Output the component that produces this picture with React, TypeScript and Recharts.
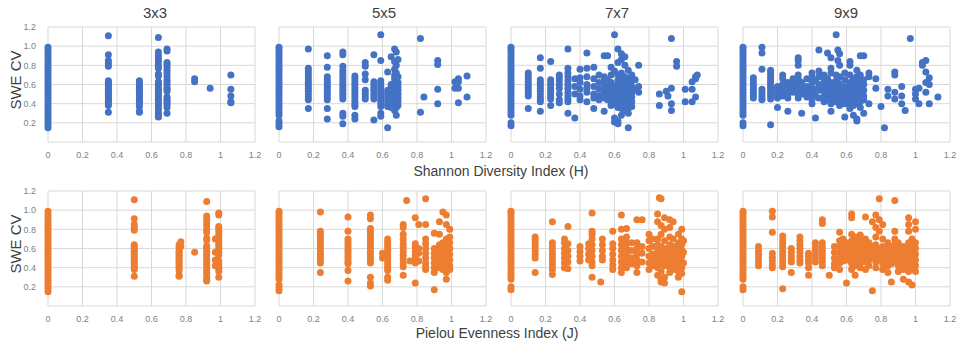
import { ScatterChart, Scatter, XAxis, YAxis, CartesianGrid } from 'recharts';

type Column = [number, number[]];

// each entry: index value, then the SWE CV values stacked on it
const shannon3x3: Column[] = [
  [0, [0.15, 0.18, 0.21, 0.24, 0.27, 0.3, 0.33, 0.36, 0.39, 0.42, 0.45, 0.48, 0.51, 0.54, 0.57, 0.6, 0.63, 0.66, 0.69, 0.72, 0.75, 0.78, 0.81, 0.84, 0.87, 0.9, 0.93, 0.96, 0.99]],
  [0.35, [1.11, 0.91, 0.85, 0.82, 0.79, 0.64, 0.62, 0.6, 0.58, 0.56, 0.54, 0.52, 0.5, 0.48, 0.46, 0.44, 0.42, 0.4, 0.38, 0.31]],
  [0.53, [0.64, 0.61, 0.58, 0.56, 0.54, 0.52, 0.5, 0.48, 0.46, 0.44, 0.42, 0.4, 0.37, 0.32, 0.31]],
  [0.64, [1.09, 0.94, 0.9, 0.87, 0.84, 0.8, 0.77, 0.71, 0.69, 0.63, 0.61, 0.58, 0.55, 0.53, 0.5, 0.48, 0.45, 0.43, 0.4, 0.37, 0.34, 0.3, 0.27, 0.26]],
  [0.69, [0.97, 0.95, 0.83, 0.81, 0.78, 0.75, 0.72, 0.69, 0.65, 0.63, 0.6, 0.57, 0.55, 0.53, 0.47, 0.45, 0.43, 0.41, 0.39, 0.36, 0.3]],
  [0.85, [0.66, 0.63]],
  [0.94, [0.56]],
  [1.06, [0.7, 0.55, 0.48, 0.42, 0.41]],
];

const shannon5x5: Column[] = [
  [0, [0.16, 0.19, 0.22, 0.28, 0.31, 0.34, 0.37, 0.4, 0.43, 0.46, 0.49, 0.52, 0.55, 0.58, 0.61, 0.64, 0.67, 0.7, 0.73, 0.76, 0.79, 0.82, 0.85, 0.88, 0.91, 0.94, 0.97, 0.99]],
  [0.17, [0.97, 0.77, 0.74, 0.71, 0.68, 0.65, 0.62, 0.59, 0.56, 0.53, 0.5, 0.47, 0.44, 0.35]],
  [0.28, [0.9, 0.78, 0.68, 0.65, 0.62, 0.59, 0.56, 0.53, 0.5, 0.47, 0.44, 0.35, 0.24]],
  [0.37, [0.94, 0.91, 0.79, 0.75, 0.72, 0.69, 0.66, 0.63, 0.6, 0.57, 0.54, 0.51, 0.48, 0.45, 0.3, 0.27, 0.19]],
  [0.44, [0.69, 0.66, 0.63, 0.6, 0.57, 0.54, 0.51, 0.48, 0.45, 0.42, 0.39, 0.37, 0.28, 0.24]],
  [0.5, [0.83, 0.79, 0.71, 0.65, 0.54, 0.51, 0.48, 0.45]],
  [0.55, [0.91, 0.63, 0.6, 0.57, 0.54, 0.51, 0.48, 0.45, 0.23]],
  [0.59, [1.12, 0.85, 0.64, 0.61, 0.58, 0.55, 0.52, 0.49, 0.46, 0.43, 0.4, 0.37, 0.3, 0.27]],
  [0.63, [0.73, 0.54, 0.51, 0.48, 0.45, 0.42, 0.39, 0.37, 0.15]],
  [0.65, [0.89, 0.6, 0.56, 0.52, 0.48, 0.44, 0.4, 0.36]],
  [0.67, [0.97, 0.84, 0.76, 0.7, 0.66, 0.62, 0.58, 0.54, 0.5, 0.46, 0.42, 0.38, 0.33]],
  [0.68, [0.94, 0.8, 0.72, 0.64, 0.6, 0.56, 0.52, 0.48, 0.44, 0.4, 0.36, 0.28]],
  [0.69, [0.86, 0.68, 0.62, 0.58, 0.54, 0.5, 0.46, 0.42, 0.38]],
  [0.82, [1.08, 0.31]],
  [0.84, [0.47]],
  [0.92, [0.85, 0.81, 0.55, 0.4]],
  [1.02, [0.63, 0.56]],
  [1.04, [0.66, 0.63, 0.56, 0.41]],
  [1.09, [0.69, 0.47]],
];

const shannon7x7: Column[] = [
  [0, [0.17, 0.2, 0.28, 0.31, 0.34, 0.37, 0.4, 0.43, 0.46, 0.49, 0.52, 0.55, 0.58, 0.61, 0.64, 0.67, 0.7, 0.73, 0.76, 0.79, 0.82, 0.85, 0.88, 0.91, 0.94, 0.97, 0.99]],
  [0.1, [0.72, 0.69, 0.66, 0.63, 0.6, 0.57, 0.54, 0.51, 0.48, 0.35]],
  [0.17, [0.88, 0.77, 0.65, 0.62, 0.59, 0.56, 0.53, 0.5, 0.47, 0.44, 0.42, 0.32]],
  [0.23, [0.84, 0.65, 0.62, 0.59, 0.56, 0.53, 0.5, 0.47, 0.45, 0.38]],
  [0.28, [0.7, 0.67, 0.64, 0.6, 0.56, 0.5, 0.44, 0.41]],
  [0.33, [0.97, 0.77, 0.72, 0.68, 0.64, 0.6, 0.56, 0.52, 0.48, 0.45, 0.42, 0.3]],
  [0.37, [0.66, 0.58, 0.5, 0.25]],
  [0.4, [0.76, 0.67, 0.62, 0.55, 0.48, 0.44]],
  [0.44, [0.93, 0.77, 0.68, 0.6, 0.56, 0.52, 0.42]],
  [0.48, [0.78, 0.66, 0.58, 0.5, 0.46, 0.35]],
  [0.51, [0.7, 0.62, 0.55, 0.48, 0.44]],
  [0.54, [0.9, 0.68, 0.64, 0.58, 0.52, 0.46, 0.32]],
  [0.56, [0.9, 0.65, 0.6, 0.55, 0.5, 0.44]],
  [0.58, [0.78, 0.7, 0.62, 0.56, 0.49, 0.42, 0.38]],
  [0.6, [1.12, 0.74, 0.58, 0.52, 0.46, 0.4, 0.25, 0.21]],
  [0.62, [0.97, 0.83, 0.7, 0.64, 0.58, 0.52, 0.47, 0.42, 0.36, 0.22, 0.19]],
  [0.64, [0.92, 0.86, 0.72, 0.66, 0.6, 0.55, 0.5, 0.45, 0.4, 0.35, 0.28]],
  [0.66, [0.89, 0.8, 0.68, 0.62, 0.57, 0.52, 0.48, 0.43, 0.38, 0.33]],
  [0.68, [0.75, 0.66, 0.6, 0.55, 0.5, 0.45, 0.4, 0.35, 0.3, 0.15]],
  [0.7, [0.7, 0.64, 0.58, 0.52, 0.47, 0.42, 0.37]],
  [0.72, [0.65, 0.55]],
  [0.74, [0.8, 0.58, 0.52]],
  [0.86, [0.5, 0.38]],
  [0.9, [0.53]],
  [0.91, [0.48]],
  [0.93, [1.08, 0.56, 0.4, 0.33]],
  [0.96, [0.84, 0.79]],
  [1.01, [0.55, 0.42]],
  [1.05, [0.63, 0.55, 0.42]],
  [1.07, [0.68, 0.66, 0.47]],
  [1.08, [0.7]],
];

const shannon9x9: Column[] = [
  [0, [0.17, 0.2, 0.28, 0.31, 0.34, 0.37, 0.4, 0.43, 0.46, 0.49, 0.52, 0.55, 0.58, 0.61, 0.64, 0.67, 0.7, 0.73, 0.76, 0.79, 0.82, 0.85, 0.88, 0.91, 0.94, 0.97, 0.99]],
  [0.06, [0.67, 0.64, 0.61, 0.58, 0.55, 0.52, 0.49, 0.46]],
  [0.11, [0.99, 0.93, 0.76, 0.55, 0.52, 0.49, 0.46, 0.44]],
  [0.16, [0.75, 0.72, 0.69, 0.66, 0.63, 0.6, 0.57, 0.54, 0.51, 0.48, 0.45, 0.18]],
  [0.2, [0.58, 0.55, 0.52, 0.49, 0.46, 0.36]],
  [0.23, [0.7, 0.66, 0.6, 0.56, 0.52, 0.48]],
  [0.26, [0.62, 0.58, 0.54, 0.5, 0.46, 0.32]],
  [0.29, [0.66, 0.6, 0.56, 0.52]],
  [0.32, [0.88, 0.85, 0.8, 0.7, 0.66, 0.62, 0.58, 0.54, 0.5, 0.46]],
  [0.34, [0.62, 0.56, 0.5, 0.3]],
  [0.37, [0.66, 0.58, 0.52, 0.47]],
  [0.4, [0.72, 0.68, 0.62, 0.56, 0.5, 0.44, 0.4]],
  [0.42, [0.64, 0.55, 0.48, 0.25]],
  [0.44, [0.96, 0.74, 0.68, 0.6, 0.54, 0.46]],
  [0.47, [0.7, 0.64, 0.58, 0.52, 0.47, 0.42]],
  [0.49, [0.93, 0.66, 0.6, 0.54, 0.48, 0.44]],
  [0.51, [0.88, 0.77, 0.72, 0.62, 0.56, 0.5, 0.45, 0.4, 0.32]],
  [0.54, [1.12, 0.7, 0.64, 0.58, 0.52, 0.47, 0.42]],
  [0.55, [0.96, 0.85, 0.62, 0.56, 0.5]],
  [0.56, [0.92, 0.8, 0.68, 0.6, 0.54, 0.48, 0.43, 0.38]],
  [0.59, [0.72, 0.65, 0.58, 0.52, 0.46, 0.4, 0.26]],
  [0.62, [0.84, 0.8, 0.7, 0.62, 0.56, 0.5, 0.45, 0.4, 0.35]],
  [0.64, [0.66, 0.6, 0.54, 0.48, 0.43, 0.38, 0.28]],
  [0.66, [0.75, 0.68, 0.62, 0.56, 0.5, 0.45, 0.4, 0.24, 0.22]],
  [0.68, [0.9, 0.7, 0.64, 0.58, 0.52, 0.47, 0.42, 0.36]],
  [0.7, [0.9, 0.65, 0.6, 0.54, 0.48, 0.44, 0.3]],
  [0.73, [0.72, 0.68, 0.4]],
  [0.77, [0.66, 0.56]],
  [0.8, [0.37]],
  [0.82, [0.15]],
  [0.84, [0.55, 0.48]],
  [0.88, [0.73, 0.7, 0.52, 0.45]],
  [0.92, [0.58, 0.48, 0.4]],
  [0.94, [0.33]],
  [0.97, [1.08]],
  [1.0, [0.55, 0.5, 0.45]],
  [1.02, [0.56, 0.4]],
  [1.04, [0.83, 0.8]],
  [1.06, [0.85, 0.73, 0.62, 0.52]],
  [1.08, [0.67, 0.6, 0.4]],
  [1.13, [0.47]],
];

const pielou3x3: Column[] = [
  [0, [0.15, 0.18, 0.21, 0.24, 0.27, 0.3, 0.33, 0.36, 0.39, 0.42, 0.45, 0.48, 0.51, 0.54, 0.57, 0.6, 0.63, 0.66, 0.69, 0.72, 0.75, 0.78, 0.81, 0.84, 0.87, 0.9, 0.93, 0.96, 0.99]],
  [0.5, [1.11, 0.91, 0.85, 0.82, 0.79, 0.64, 0.62, 0.6, 0.58, 0.56, 0.54, 0.52, 0.5, 0.48, 0.46, 0.44, 0.42, 0.4, 0.38, 0.31]],
  [0.76, [0.64, 0.61, 0.58, 0.56, 0.54, 0.52, 0.5, 0.48, 0.46, 0.44, 0.42, 0.4, 0.37, 0.32, 0.31]],
  [0.77, [0.67, 0.62]],
  [0.85, [0.56]],
  [0.92, [1.09, 0.94, 0.9, 0.87, 0.84, 0.8, 0.77, 0.71, 0.69, 0.63, 0.61, 0.58, 0.55, 0.53, 0.5, 0.48, 0.45, 0.43, 0.4, 0.37, 0.34, 0.3, 0.27, 0.26]],
  [0.97, [0.7, 0.56, 0.48, 0.42]],
  [0.99, [0.97, 0.95, 0.83, 0.81, 0.78, 0.75, 0.72, 0.69, 0.65, 0.63, 0.6, 0.57, 0.55, 0.53, 0.47, 0.45, 0.43, 0.41, 0.39, 0.36, 0.3]],
];

const pielou5x5: Column[] = [
  [0, [0.16, 0.19, 0.22, 0.28, 0.31, 0.34, 0.37, 0.4, 0.43, 0.46, 0.49, 0.52, 0.55, 0.58, 0.61, 0.64, 0.67, 0.7, 0.73, 0.76, 0.79, 0.82, 0.85, 0.88, 0.91, 0.94, 0.97, 0.99]],
  [0.24, [0.98, 0.78, 0.75, 0.72, 0.69, 0.66, 0.63, 0.6, 0.57, 0.54, 0.51, 0.48, 0.45, 0.35]],
  [0.4, [0.93, 0.78, 0.7, 0.67, 0.64, 0.61, 0.58, 0.55, 0.52, 0.49, 0.46, 0.44, 0.37, 0.26]],
  [0.53, [0.95, 0.91, 0.81, 0.78, 0.75, 0.72, 0.69, 0.66, 0.63, 0.6, 0.57, 0.54, 0.51, 0.48, 0.45, 0.3, 0.24, 0.21]],
  [0.6, [0.55, 0.5]],
  [0.63, [0.7, 0.67, 0.64, 0.61, 0.58, 0.55, 0.52, 0.49, 0.46, 0.43, 0.4, 0.37, 0.3, 0.27]],
  [0.72, [0.85, 0.82, 0.75, 0.7, 0.65, 0.61, 0.57, 0.53, 0.49, 0.45, 0.41, 0.32]],
  [0.74, [1.1]],
  [0.76, [0.47]],
  [0.79, [0.92, 0.65, 0.61, 0.57, 0.53, 0.49, 0.45, 0.24]],
  [0.81, [0.85, 0.6, 0.55, 0.47]],
  [0.85, [1.12, 0.85, 0.7, 0.65, 0.6, 0.55, 0.5, 0.45, 0.41, 0.38]],
  [0.9, [0.76, 0.6, 0.55, 0.5, 0.45, 0.4, 0.35, 0.17]],
  [0.93, [0.88, 0.75, 0.64, 0.58, 0.52, 0.46, 0.4]],
  [0.95, [0.98, 0.66, 0.6, 0.55, 0.5, 0.44, 0.38]],
  [0.97, [0.95, 0.85, 0.7, 0.62, 0.56, 0.5, 0.45, 0.4, 0.35, 0.28]],
  [0.99, [0.8, 0.72, 0.66, 0.6, 0.54, 0.48, 0.42, 0.38]],
];

const pielou7x7: Column[] = [
  [0, [0.17, 0.2, 0.28, 0.31, 0.34, 0.37, 0.4, 0.43, 0.46, 0.49, 0.52, 0.55, 0.58, 0.61, 0.64, 0.67, 0.7, 0.73, 0.76, 0.79, 0.82, 0.85, 0.88, 0.91, 0.94, 0.97, 0.99]],
  [0.14, [0.72, 0.69, 0.66, 0.62, 0.58, 0.54, 0.5, 0.35]],
  [0.24, [0.88, 0.66, 0.62, 0.58, 0.54, 0.5, 0.46, 0.42, 0.38, 0.33]],
  [0.31, [0.7, 0.66, 0.6, 0.55, 0.5, 0.45, 0.4]],
  [0.33, [0.83, 0.65, 0.58, 0.52, 0.46, 0.39]],
  [0.4, [0.62, 0.57, 0.52, 0.47]],
  [0.45, [0.65, 0.6, 0.54, 0.48]],
  [0.47, [0.97, 0.78, 0.75, 0.7, 0.64, 0.58, 0.52, 0.46, 0.42, 0.3]],
  [0.52, [0.25]],
  [0.53, [0.7, 0.64, 0.58, 0.52, 0.48]],
  [0.59, [0.78, 0.65, 0.6, 0.54, 0.48, 0.43, 0.38]],
  [0.64, [0.95, 0.8, 0.7, 0.64, 0.58, 0.52, 0.46, 0.4, 0.35]],
  [0.67, [0.81, 0.72, 0.66, 0.6, 0.54, 0.48, 0.44, 0.4]],
  [0.7, [0.66, 0.58, 0.5, 0.44]],
  [0.73, [0.9, 0.66, 0.6, 0.54, 0.48, 0.42, 0.35]],
  [0.76, [0.9, 0.62, 0.55, 0.46]],
  [0.8, [0.75, 0.68, 0.6, 0.52, 0.45, 0.38]],
  [0.82, [0.7, 0.62, 0.54, 0.48, 0.42]],
  [0.85, [0.96, 0.88, 0.7, 0.64, 0.58, 0.52, 0.46, 0.4, 0.32]],
  [0.86, [1.13]],
  [0.87, [1.12, 0.84, 0.75, 0.62, 0.56, 0.5, 0.44, 0.36, 0.28, 0.25]],
  [0.89, [0.92, 0.8, 0.68, 0.6, 0.54, 0.48, 0.42, 0.3, 0.24]],
  [0.92, [0.9, 0.82, 0.72, 0.64, 0.58, 0.52, 0.46, 0.4, 0.35]],
  [0.94, [0.88, 0.7, 0.62, 0.56, 0.5, 0.44, 0.38]],
  [0.97, [0.75, 0.66, 0.6, 0.54, 0.48, 0.42, 0.36, 0.3]],
  [0.99, [0.8, 0.7, 0.64, 0.58, 0.52, 0.46, 0.4, 0.34, 0.15]],
  [1.0, [0.68, 0.56, 0.45]],
];

const pielou9x9: Column[] = [
  [0, [0.17, 0.2, 0.28, 0.31, 0.34, 0.37, 0.4, 0.43, 0.46, 0.49, 0.52, 0.55, 0.58, 0.61, 0.64, 0.67, 0.7, 0.73, 0.76, 0.79, 0.82, 0.85, 0.88, 0.91, 0.94, 0.97, 0.99]],
  [0.09, [0.62, 0.58, 0.54, 0.5, 0.46, 0.42]],
  [0.17, [0.99, 0.93, 0.77, 0.55, 0.51, 0.47, 0.43, 0.4]],
  [0.23, [0.73, 0.69, 0.65, 0.61, 0.57, 0.53, 0.49, 0.45, 0.41, 0.18]],
  [0.28, [0.6, 0.56, 0.52, 0.48, 0.46, 0.35]],
  [0.33, [0.72, 0.68, 0.64, 0.6, 0.56, 0.52, 0.48, 0.45]],
  [0.38, [0.55, 0.52, 0.48, 0.45, 0.4, 0.32]],
  [0.42, [0.66, 0.62, 0.58, 0.54, 0.5, 0.46]],
  [0.46, [0.9, 0.86, 0.66, 0.62, 0.58, 0.54, 0.5, 0.46, 0.42]],
  [0.5, [0.32]],
  [0.53, [0.62, 0.56, 0.5, 0.44, 0.4]],
  [0.56, [0.77, 0.68, 0.62, 0.56, 0.5, 0.45, 0.38]],
  [0.58, [0.7, 0.64, 0.58, 0.52, 0.47]],
  [0.6, [0.66, 0.6, 0.54, 0.48, 0.24]],
  [0.63, [0.96, 0.92, 0.75, 0.68, 0.62, 0.56, 0.5, 0.44, 0.38]],
  [0.65, [0.72, 0.66, 0.6, 0.54, 0.48, 0.42, 0.32]],
  [0.68, [0.74, 0.68, 0.62, 0.56, 0.5, 0.45, 0.4]],
  [0.71, [0.93, 0.7, 0.64, 0.58, 0.52, 0.46, 0.38]],
  [0.73, [0.66, 0.6, 0.54, 0.48, 0.42]],
  [0.75, [0.88, 0.62, 0.56, 0.5, 0.16]],
  [0.77, [0.95, 0.82, 0.72, 0.64, 0.58, 0.52, 0.46, 0.4]],
  [0.79, [1.12, 0.9, 0.78, 0.6, 0.54, 0.48]],
  [0.81, [0.85, 0.7, 0.62, 0.56, 0.5, 0.44, 0.38]],
  [0.84, [0.66, 0.6, 0.54, 0.48, 0.42, 0.35]],
  [0.86, [0.62, 0.56, 0.5, 0.44, 0.25]],
  [0.88, [1.1, 0.78, 0.7, 0.64, 0.58, 0.52, 0.46]],
  [0.9, [0.66, 0.6, 0.54, 0.48, 0.42, 0.36]],
  [0.93, [0.62, 0.56, 0.5, 0.44, 0.38, 0.28]],
  [0.96, [0.92, 0.85, 0.78, 0.66, 0.6, 0.54, 0.48, 0.42, 0.36, 0.25]],
  [0.98, [0.7, 0.64, 0.58, 0.52, 0.46, 0.4, 0.22]],
  [1.0, [0.88, 0.8, 0.66, 0.6, 0.54, 0.48, 0.42, 0.36]],
];

const windowTitles = ['3x3', '5x5', '7x7', '9x9'];
const xTicks = [0, 0.2, 0.4, 0.6, 0.8, 1, 1.2];
const yTicks = [0, 0.2, 0.4, 0.6, 0.8, 1, 1.2];

const BLUE = '#4472C4';
const ORANGE = '#ED7D31';
const FONT = '"Liberation Sans", Arial, sans-serif';

const PLOT_W = 207;
const PLOT_H = 115;
const PAD_L = 40;
const PAD_R = 8;
const PAD_T = 8;
const X_AXIS_H = 24;
const colLefts = [48, 279, 511, 743];
const rowTops = [27, 191];
const titleXs = [155, 384, 617, 846];

const toPoints = (cols: Column[]) =>
  cols.flatMap(([x, ys]) => ys.map((y) => ({ x, y })));

function Panel({ cols, color, left, top, showY }: { cols: Column[]; color: string; left: number; top: number; showY: boolean }) {
  const data = toPoints(cols);
  return (
    <div style={{ position: 'absolute', left: left - PAD_L, top: top - PAD_T }}>
      <ScatterChart
        width={PLOT_W + PAD_L + PAD_R}
        height={PLOT_H + PAD_T + X_AXIS_H}
        margin={{ top: PAD_T, right: PAD_R, bottom: 0, left: showY ? 0 : PAD_L }}
      >
        <CartesianGrid stroke="#d9d9d9" strokeWidth={1} />
        <XAxis
          type="number"
          dataKey="x"
          domain={[0, 1.2]}
          ticks={xTicks}
          height={X_AXIS_H}
          axisLine={false}
          tickLine={false}
          tickSize={0}
          tickMargin={10}
          interval={0}
          tick={{ fontSize: 9, fill: '#7f7f7f', fontFamily: FONT }}
          tickFormatter={(v: number) => String(v)}
        />
        <YAxis
          type="number"
          dataKey="y"
          domain={[0, 1.2]}
          ticks={yTicks}
          width={PAD_L}
          hide={!showY}
          axisLine={false}
          tickLine={false}
          tickSize={0}
          tickMargin={12}
          interval={0}
          tick={{ fontSize: 9, fill: '#7f7f7f', fontFamily: FONT }}
          tickFormatter={(v: number) => (v === 0 ? '' : v.toFixed(1))}
        />
        <Scatter
          data={data}
          fill={color}
          isAnimationActive={false}
          shape={(p: any) => <circle cx={p.cx} cy={p.cy} r={3.5} fill={color} />}
        />
      </ScatterChart>
    </div>
  );
}

export default function App() {
  const shannon = [shannon3x3, shannon5x5, shannon7x7, shannon9x9];
  const pielou = [pielou3x3, pielou5x5, pielou7x7, pielou9x9];
  return (
    <div style={{ position: 'absolute', left: 0, top: 0, width: 956, height: 342, background: '#fff', fontFamily: FONT }}>
      {shannon.map((cols, i) => (
        <Panel key={'h' + i} cols={cols} color={BLUE} left={colLefts[i]} top={rowTops[0]} showY={i === 0} />
      ))}
      {pielou.map((cols, i) => (
        <Panel key={'j' + i} cols={cols} color={ORANGE} left={colLefts[i]} top={rowTops[1]} showY={i === 0} />
      ))}
      <svg width={956} height={342} style={{ position: 'absolute', left: 0, top: 0, pointerEvents: 'none' }}>
        {windowTitles.map((t, i) => (
          <text key={t} x={titleXs[i]} y={12} textAnchor="middle" dominantBaseline="central" fontSize={15} fill="#404040" fontFamily={FONT}>
            {t}
          </text>
        ))}
        <text x={15} y={80} transform="rotate(-90 15 80)" textAnchor="middle" dominantBaseline="central" fontSize={15} fill="#404040" fontFamily={FONT}>
          SWE CV
        </text>
        <text x={15} y={244} transform="rotate(-90 15 244)" textAnchor="middle" dominantBaseline="central" fontSize={15} fill="#404040" fontFamily={FONT}>
          SWE CV
        </text>
        <text x={501} y={171} textAnchor="middle" dominantBaseline="central" fontSize={14} fill="#404040" fontFamily={FONT}>
          Shannon Diversity Index (H)
        </text>
        <text x={497} y={333} textAnchor="middle" dominantBaseline="central" fontSize={14} fill="#404040" fontFamily={FONT}>
          Pielou Evenness Index (J)
        </text>
      </svg>
    </div>
  );
}
